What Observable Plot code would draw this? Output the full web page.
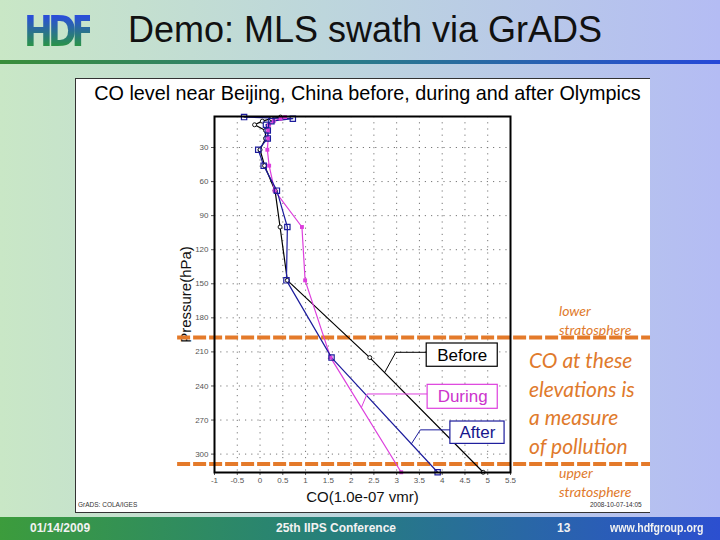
<!DOCTYPE html>
<html>
<head>
<meta charset="utf-8">
<script src="https://cdn.jsdelivr.net/npm/d3@7"></script>
<script src="https://cdn.jsdelivr.net/npm/@observablehq/plot@0.6"></script>
<style>
  html, body { margin: 0; padding: 0; }
  body { width: 720px; height: 540px; position: relative; overflow: hidden;
    background: linear-gradient(to right, #c9e7c6 0%, #bdd6dc 45%, #b4bcf4 100%);
    font-family: "Liberation Sans", Arial, sans-serif; }
  #logo { position: absolute; left: 24px; top: 7px; font: bold 42px "DejaVu Sans", sans-serif;
    letter-spacing: -6px; background: linear-gradient(#2a4fd8 20%, #2a9a3a 85%);
    -webkit-background-clip: text; background-clip: text; color: transparent; transform: scaleX(0.82); transform-origin: left; }
  #title { position: absolute; left: 100px; width: 530px; top: 9px; text-align: center;
    font-size: 36px; color: #111; }
  #hbar { position: absolute; left: 0; top: 60px; width: 720px; height: 4px;
    background: linear-gradient(to right, #3a8e3a, #2a7a8a 50%, #2648d8); }
  #box { position: absolute; left: 75px; top: 78px; width: 574px; height: 433px;
    background: #fff; border: 1px solid #333; border-right: none; }
  #ctitle { position: absolute; left: 75px; top: 82px; width: 585px; text-align: center;
    font-size: 19.8px; color: #000; white-space: nowrap; }
  #chart { position: absolute; left: 75px; top: 104px; }
  .foot { position: absolute; top: 501px; font-size: 6.5px; color: #333; }
  .ann { position: absolute; color: #e07a2c; font-family: Lato, "Open Sans", sans-serif; font-style: italic; }
  #bbar { position: absolute; left: 0; top: 517px; width: 720px; height: 23px;
    background: linear-gradient(to right, #3c9c3c, #26807a 45%, #2c4fd0); }
  .bt { position: absolute; top: 521px; color: #f2f2f2; font: bold 12px "Liberation Sans Narrow", "Liberation Sans", sans-serif; transform-origin: left; }
</style>
</head>
<body>
<div id="logo">HDF</div>
<div id="title">Demo: MLS swath via GrADS</div>
<div id="hbar"></div>
<div id="box"></div>
<div id="ctitle">CO level near Beijing, China before, during and after Olympics</div>
<div id="chart"></div>
<div class="foot" style="left:78px">GrADS: COLA/IGES</div>
<div class="foot" style="left:590px">2008-10-07-14:05</div>
<div class="ann" style="left:559px; top:301px; font-size:14px; line-height:19px;">lower<br>stratosphere</div>
<div class="ann" style="left:529px; top:346px; font-size:21px; line-height:28.5px;">CO at these<br>elevations is<br>a measure<br>of pollution</div>
<div class="ann" style="left:559px; top:463px; font-size:14px; line-height:19px;">upper<br>stratosphere</div>
<div id="bbar"></div>
<div class="bt" style="left:30px">01/14/2009</div>
<div class="bt" style="left:276px">25th IIPS Conference</div>
<div class="bt" style="left:557px">13</div>
<div class="bt" style="left:610px; transform: scaleX(0.88);">www.hdfgroup.org</div>
<script>
// Pressure levels (hPa) and CO values (1.0e-07 vmr)
const levels = [316, 215, 147, 100, 68, 46, 32, 22, 15, 10, 6.8, 4.6, 3.2];
const before = [4.9, 2.41, 0.6, 0.44, 0.33, 0.1, 0.0, 0.12, 0.12, -0.12, 0.05, 0.25, 0.45];
const during = [3.1, 1.55, 0.99, 0.92, 0.32, 0.2, 0.16, 0.18, 0.18, 0.2, 0.3, 0.45, 0.55];
const after  = [3.9, 1.57, 0.58, 0.6, 0.37, 0.08, -0.04, 0.17, 0.17, 0.13, 0.25, 0.72, -0.35];
const seriesNames = ["Before", "During", "After"];
const xTicks = [-1, -0.5, 0, 0.5, 1, 1.5, 2, 2.5, 3, 3.5, 4, 4.5, 5, 5.5];
const yTicks = [30, 60, 90, 120, 150, 180, 210, 240, 270, 300];
// Stratosphere boundary markers (hPa)
const boundaries = [197.3, 308.8];

const colors = {Before: "#000000", During: "#dd3fdd", After: "#1c1c9c"};
const textColors = {Before: "#000000", During: "#cc33cc", After: "#16168c"};

const rows = [];
[before, during, after].forEach((vals, i) => {
  vals.forEach((v, j) => rows.push({series: seriesNames[i], p: levels[j], co: v}));
});

// legend annotation placement (data units)
const legendBoxes = [
  {series: "Before", x1: 3.66, x2: 5.22, p1: 202.6, p2: 223.1, elbow: 2.98, target: 228.2},
  {series: "During", x1: 3.68, x2: 5.22, p1: 239.0, p2: 260.1, elbow: 2.35, target: 259.0},
  {series: "After",  x1: 4.18, x2: 5.37, p1: 271.3, p2: 291.0, elbow: 3.52, target: 291.0}
];
function interp(series, p) {
  const vals = {Before: before, During: during, After: after}[series];
  for (let j = 0; j < levels.length - 1; j++) {
    const a = levels[j], b = levels[j + 1];
    if (p <= a && p >= b) return vals[j] + (vals[j + 1] - vals[j]) * (a - p) / (a - b);
  }
  return vals[0];
}
const leaders = [];
legendBoxes.forEach(b => {
  const mid = (b.p1 + b.p2) / 2 - 2.5;
  leaders.push({series: b.series, pts: [[b.x1, mid], [b.elbow, mid], [interp(b.series, b.target), b.target]]});
});
const leaderRows = leaders.flatMap(l => l.pts.map(([x, p]) => ({series: l.series, x, p})));

const plot = Plot.plot({
  width: 575, height: 408,
  marginTop: 12, marginBottom: 40, marginLeft: 139, marginRight: 140,
  style: {background: "transparent", fontFamily: "'Liberation Sans', Arial, sans-serif"},
  x: {domain: [-1, 5.5]},
  y: {domain: [316.2, 2.7]},
  marks: [
    Plot.gridX(xTicks.slice(1, -1), {stroke: "#777", strokeOpacity: 1, strokeDasharray: "1.2,5"}),
    Plot.gridY(yTicks, {stroke: "#777", strokeOpacity: 1, strokeDasharray: "1.2,5"}),
    Plot.axisX(xTicks, {tickFormat: d => String(d), tickSize: 3, tickPadding: 2, fontSize: 8, color: "#555", label: null}),
    Plot.axisY(yTicks, {tickSize: 3, tickPadding: 3, fontSize: 8, color: "#555", label: null}),
    Plot.text(["CO(1.0e-07 vmr)"], {frameAnchor: "bottom", dy: 29, fontSize: 15, fill: "#111"}),
    Plot.text(["Pressure(hPa)"], {frameAnchor: "left", rotate: -90, dx: -28, textAnchor: "middle", fontSize: 15, fill: "#111"}),
    Plot.ruleY(boundaries, {x1: -1.81, x2: 8.58, stroke: "#e47a2a", strokeWidth: 4, strokeDasharray: "13,3"}),
    Plot.line(rows, {x: "co", y: "p", z: "series", stroke: d => colors[d.series], strokeWidth: 1.2, curve: "linear"}),
    Plot.dot(rows.filter(d => d.series === "Before"), {x: "co", y: "p", r: 2, stroke: "#000", fill: "#fff", strokeWidth: 0.9}),
    Plot.dot(rows.filter(d => d.series === "During"), {x: "co", y: "p", r: 2.2, symbol: "square", fill: colors.During, stroke: "none"}),
    Plot.dot(rows.filter(d => d.series === "After"), {x: "co", y: "p", r: 3, symbol: "square", stroke: colors.After, fill: "#fff", fillOpacity: 0, strokeWidth: 1.2}),
    Plot.line(leaderRows, {x: "x", y: "p", z: "series", stroke: d => colors[d.series], strokeWidth: 1}),
    Plot.rect(legendBoxes, {x1: "x1", x2: "x2", y1: "p1", y2: "p2", fill: "#fff", stroke: d => colors[d.series], strokeWidth: 1.2}),
    Plot.text(legendBoxes, {x: d => (d.x1 + d.x2) / 2, y: d => (d.p1 + d.p2) / 2, text: "series", fill: d => textColors[d.series], fontSize: 17}),
    Plot.frame({stroke: "#000", strokeWidth: 2})
  ]
});
document.getElementById("chart").appendChild(plot);
</script>
</body>
</html>
